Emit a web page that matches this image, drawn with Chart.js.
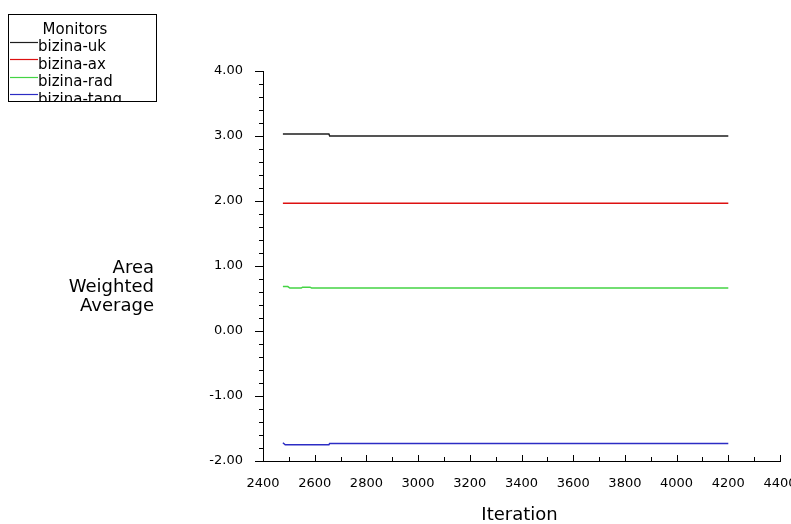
<!DOCTYPE html>
<html>
<head>
<meta charset="utf-8">
<script src="https://cdn.jsdelivr.net/npm/chart.js@4.4.1/dist/chart.umd.min.js"></script>
<style>
  html, body { margin: 0; padding: 0; background: #fff; }
  #wrap { width: 791px; height: 524px; }
</style>
</head>
<body>
<div id="wrap"><canvas id="monitorChart" width="791" height="524"></canvas></div>
<script>
// monitor histories (iteration -> area weighted average)
const ukIter   = [2477, 2655, 2658, 4200];
const ukVals   = [3.03, 3.03, 3.00, 3.00];
const axIter   = [2477, 4200];
const axVals   = [1.965, 1.965];
const radIter  = [2477, 2496, 2504, 2548, 2553, 2582, 2588, 4200];
const radVals  = [0.683, 0.683, 0.661, 0.661, 0.675, 0.675, 0.661, 0.661];
const tangIter = [2477, 2486, 2655, 2658, 4200];
const tangVals = [-1.72, -1.75, -1.75, -1.73, -1.73];

const seriesNames  = ['bizina-uk', 'bizina-ax', 'bizina-rad', 'bizina-tang'];
const seriesColors = ['#1e1e1e', '#dd1010', '#44d444', '#2c2cc4'];

const xTicks = [2400, 2600, 2800, 3000, 3200, 3400, 3600, 3800, 4000, 4200, 4400];
const yTicks = [-2, -1, 0, 1, 2, 3, 4];
const yTitle = ['Area', 'Weighted', 'Average'];
const xTitle = 'Iteration';
const legendTitle = 'Monitors';

const FONT = '"DejaVu Sans", Verdana, sans-serif';

function toPoints(xs, ys) {
    return xs.map((x, i) => ({x: x, y: ys[i]}));
}

const seriesData = [
    toPoints(ukIter, ukVals),
    toPoints(axIter, axVals),
    toPoints(radIter, radVals),
    toPoints(tangIter, tangVals)
];

// axis tick marks (y outward, x inward), titles and the boxed legend
const decorPlugin = {
    id: 'decor',
    afterDraw(chart) {
        const ctx = chart.ctx;
        const xs = chart.scales.x, ys = chart.scales.y;
        const area = chart.chartArea;
        ctx.save();
        ctx.strokeStyle = '#000';
        ctx.lineWidth = 1;
        ctx.beginPath();
        // y ticks: 5 intervals between majors
        for (let i = 0; i < yTicks.length; i++) {
            const py = Math.round(ys.getPixelForValue(yTicks[i])) + 0.5;
            ctx.moveTo(area.left - 8, py); ctx.lineTo(area.left, py);
            if (i < yTicks.length - 1) {
                const step = (yTicks[i + 1] - yTicks[i]) / 5;
                for (let k = 1; k < 5; k++) {
                    const my = Math.round(ys.getPixelForValue(yTicks[i] + k * step)) + 0.5;
                    ctx.moveTo(area.left - 4, my); ctx.lineTo(area.left, my);
                }
            }
        }
        // x ticks: one minor between majors
        for (let i = 0; i < xTicks.length; i++) {
            const px = Math.round(xs.getPixelForValue(xTicks[i])) + 0.5;
            ctx.moveTo(px, area.bottom); ctx.lineTo(px, area.bottom - 6);
            if (i < xTicks.length - 1) {
                const mx = Math.round(xs.getPixelForValue((xTicks[i] + xTicks[i + 1]) / 2)) + 0.5;
                ctx.moveTo(mx, area.bottom); ctx.lineTo(mx, area.bottom - 4);
            }
        }
        ctx.stroke();

        // axis titles
        ctx.fillStyle = '#000';
        ctx.font = '18px ' + FONT;
        ctx.textAlign = 'right';
        ctx.textBaseline = 'alphabetic';
        yTitle.forEach((t, i) => ctx.fillText(t, 154, 273 + i * 19));
        ctx.textAlign = 'center';
        ctx.fillText(xTitle, (area.left + area.right) / 2 - 2, 520);

        // legend box, clipped like the original
        const bx = 8, by = 14, bw = 148, bh = 87;
        ctx.save();
        ctx.beginPath();
        ctx.rect(bx, by, bw, bh);
        ctx.clip();
        ctx.fillStyle = '#000';
        ctx.font = '15px ' + FONT;
        ctx.textAlign = 'center';
        ctx.fillText(legendTitle, 75, 34);
        ctx.textAlign = 'left';
        chart.data.datasets.forEach((ds, i) => {
            const base = 51 + i * 17.6;
            const ly = Math.round(base - 9.5) + 0.5;
            ctx.strokeStyle = ds.borderColor;
            ctx.lineWidth = 1.2;
            ctx.beginPath();
            ctx.moveTo(10, ly); ctx.lineTo(38, ly);
            ctx.stroke();
            ctx.fillStyle = '#000';
            ctx.fillText(ds.label, 38, base);
        });
        ctx.restore();
        ctx.strokeStyle = '#000';
        ctx.lineWidth = 1;
        ctx.strokeRect(bx + 0.5, by + 0.5, bw, bh);
        ctx.restore();
    }
};

const ctx = document.getElementById('monitorChart').getContext('2d');
const monitorChart = new Chart(ctx, {
    type: 'line',
    data: {
        datasets: seriesData.map((pts, i) => ({
            label: seriesNames[i],
            data: pts,
            borderColor: seriesColors[i],
            backgroundColor: seriesColors[i],
            borderWidth: 1.5,
            pointRadius: 0,
            tension: 0,
            fill: false
        }))
    },
    options: {
        responsive: false,
        animation: false,
        layout: { padding: { top: 71, right: 11, bottom: 0, left: 0 } },
        plugins: { legend: { display: false }, tooltip: { enabled: false } },
        scales: {
            x: {
                type: 'linear',
                min: 2400,
                max: 4400,
                afterBuildTicks: (scale) => { scale.ticks = xTicks.map(v => ({value: v})); },
                afterFit: (scale) => { scale.height = 63; scale.paddingLeft = 0; scale.paddingRight = 0; },
                ticks: {
                    color: '#000',
                    font: { family: FONT, size: 13 },
                    padding: 7,
                    maxRotation: 0,
                    autoSkip: false,
                    callback: (v) => String(v)
                },
                grid: { display: false },
                border: { display: true, color: '#000', width: 1 }
            },
            y: {
                type: 'linear',
                min: -2,
                max: 4,
                afterBuildTicks: (scale) => { scale.ticks = yTicks.map(v => ({value: v})); },
                afterFit: (scale) => { scale.width = 263; scale.paddingTop = 0; scale.paddingBottom = 0; },
                ticks: {
                    color: '#000',
                    font: { family: FONT, size: 13 },
                    padding: 12,
                    callback: (v) => Number(v).toFixed(2)
                },
                grid: { display: false },
                border: { display: true, color: '#000', width: 1 }
            }
        }
    },
    plugins: [decorPlugin]
});
</script>
</body>
</html>
